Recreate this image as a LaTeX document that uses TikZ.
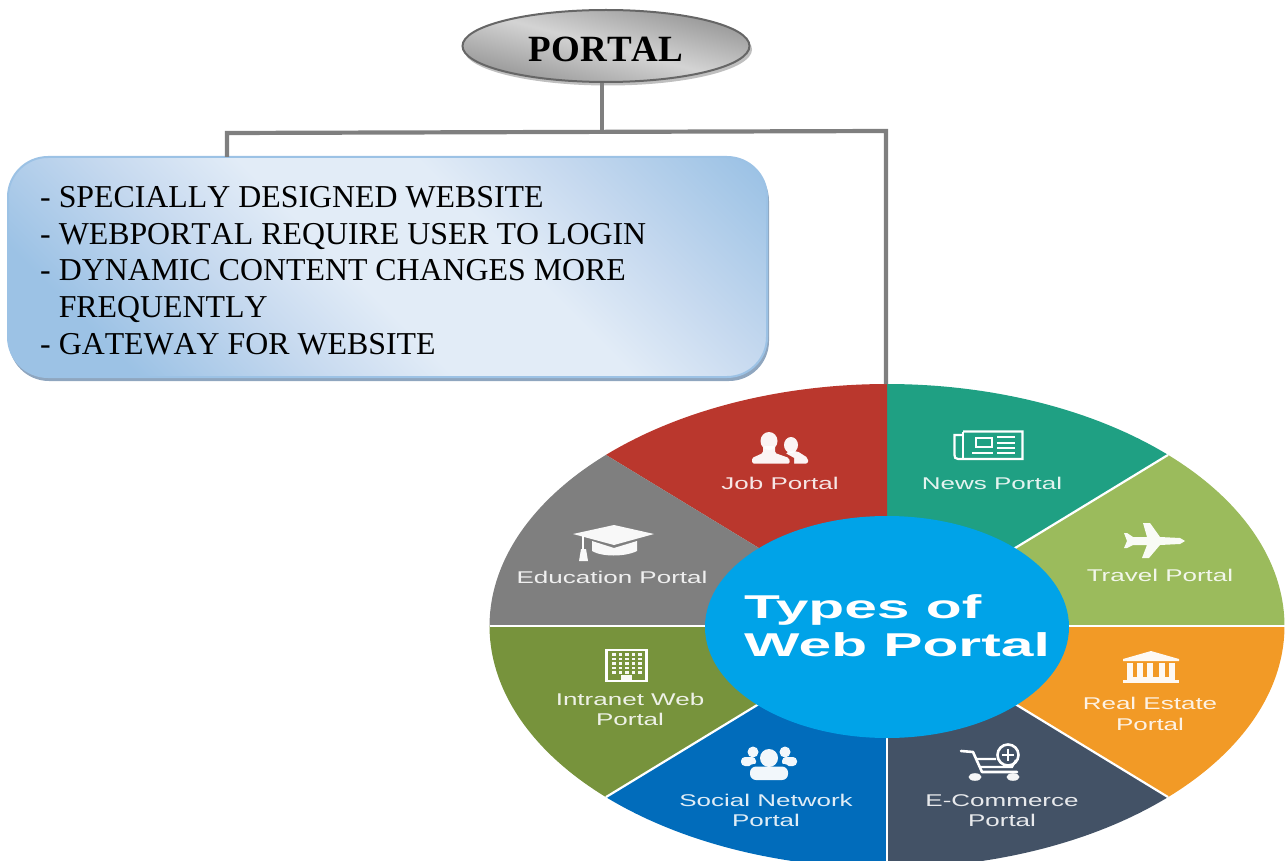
\documentclass[tikz,border=0pt]{standalone}
\usepackage{fontspec}
\usetikzlibrary{shapes.geometric}
\setmainfont[Kerning=Off]{Liberation Serif}
\newfontfamily\lblfont[FakeStretch=1.53]{Liberation Sans}
\newfontfamily\hubfont[FakeStretch=1.78]{Liberation Sans}
\definecolor{wirec}{HTML}{7F7F7F}
\definecolor{jobc}{HTML}{BA372D}
\definecolor{newsc}{HTML}{1FA083}
\definecolor{travelc}{HTML}{9BBB5C}
\definecolor{estatec}{HTML}{F29A26}
\definecolor{commercec}{HTML}{435266}
\definecolor{socialc}{HTML}{016CBB}
\definecolor{intranetc}{HTML}{77933C}
\definecolor{educ}{HTML}{7F7F7F}
\definecolor{hubc}{HTML}{00A3E8}
\definecolor{boxdark}{HTML}{9CC2E5}
\definecolor{boxmid}{HTML}{C6D9EF}
\definecolor{boxlight}{HTML}{E2ECF7}
\definecolor{boxshadow}{HTML}{8FA6BF}
\pgfdeclareverticalshading{boxshade}{100bp}{color(0bp)=(boxdark); color(24bp)=(boxdark); color(37bp)=(boxmid); color(47bp)=(boxlight); color(60bp)=(boxlight); color(70bp)=(boxmid); color(84bp)=(boxdark); color(100bp)=(boxdark)}
\newcommand{\sector}[3]{\fill[#1] (887,626) -- plot[domain=#2:#3,samples=40] ({887+397.5*cos(\x)},{626-242*sin(\x)}) -- cycle;}
\newcommand{\separator}[1]{\draw[sepline] (887,626) -- ({887+397.5*cos(#1)},{626-242*sin(#1)});}
\tikzset{
  wire/.style={draw=wirec,line width=4.2pt,line cap=butt,line join=miter},
  sepline/.style={draw=white,line width=2.2pt},
  lbl/.style={text=white,text opacity=.88,align=center,inner sep=0pt,font=\lblfont\fontsize{17}{20.5}\selectfont},
  icon/.style={fill=white,draw=none,fill opacity=.95},
  iconline/.style={draw=white,line width=2.2pt,fill=none},
}
\begin{document}
\begin{tikzpicture}[x=1pt,y=-1pt]
\useasboundingbox (0,0) rectangle (1285,861);
\clip (0,0) rectangle (1285,861);
% wheel
\sector{newsc}{45}{90}
\sector{jobc}{90}{135}
\sector{educ}{135}{180}
\sector{intranetc}{180}{225}
\sector{socialc}{225}{270}
\sector{commercec}{270}{315}
\sector{estatec}{315}{360}
\sector{travelc}{0}{45}
\separator{45}\separator{0}\separator{-45}\separator{180}\separator{225}\separator{270}
\node[ellipse,fill=hubc,minimum width=364pt,minimum height=222pt,inner sep=0pt] (hub) at (887,627) {};
\node[anchor=west,text=white,align=left,inner sep=0pt,font=\hubfont\bfseries\fontsize{33}{38}\selectfont] (hubtext) at (744,626) {Types of\\Web Portal};
% labels
\node[lbl] (job) at (780,483) {Job Portal};
\node[lbl] (news) at (992,483) {News Portal};
\node[lbl] (travel) at (1160,575) {Travel Portal};
\node[lbl] (edu) at (612,577) {Education Portal};
\node[lbl] (estate) at (1150,714) {Real Estate\\Portal};
\node[lbl] (commerce) at (1002,810.5) {E-Commerce\\Portal};
\node[lbl] (social) at (766,810.5) {Social Network\\Portal};
\node[lbl] (intranet) at (630,709.5) {Intranet Web\\Portal};
% job icon
\fill[icon] (791,445) ellipse (7 and 8);
\fill[icon,rounded corners=2pt] (786,463.5) -- (786,452) -- (797,451) -- (808,458) -- (808,463.5) -- cycle;
\fill[jobc] (769,441) ellipse (10.5 and 11.5);
\fill[jobc] (762,449) -- (778,449) -- (794,458) -- (794,464) -- (780,464) -- cycle;
\fill[icon] (769,441) ellipse (8.5 and 9);
\fill[icon,rounded corners=1.5pt] (752,463.5) -- (752,458) -- (763,453) -- (763,446) -- (775,446) -- (775,453) -- (789,458) -- (790,463.5) -- cycle;
% education icon
\fill[icon] (573,534) -- (614,525) -- (654,534) -- (614,545) -- cycle;
\fill[icon] (592,541) -- (614,548) -- (637,541) -- (637,551) .. controls (625,557) and (602,557) .. (592,551) -- cycle;
\draw[white,line width=1.6pt] (583,536) -- (583,550);
\fill[icon] (581,549) -- (586,549) -- (588,561) -- (579,561) -- cycle;
% news icon
\draw[iconline] (963,431.5) -- (1022.5,431.5) -- (1022.5,459) -- (958,459) .. controls (955,459) and (954.5,457) .. (954.5,455) -- (954.5,435) -- (963,435);
\draw[iconline] (963,431.5) -- (963,459);
\draw[iconline] (976,438) rectangle (992,447);
\draw[iconline] (997,437) -- (1015,437) (997,443) -- (1015,443) (997,448) -- (1015,448) (997,453) -- (1015,453) (972,453) -- (993,453);
% plane icon
\fill[icon] (1185,541) -- (1180,538) -- (1160,537) -- (1150,523) -- (1143,523) -- (1147,537) -- (1133,537) -- (1127,533) -- (1124,533) -- (1127,541) -- (1124,548) -- (1127,548) -- (1133,545) -- (1147,545) -- (1142,558) -- (1149,558) -- (1160,545) -- (1180,544) -- cycle;
% estate icon
\fill[icon] (1123,659) -- (1151,651) -- (1179,659) -- (1179,661) -- (1123,661) -- cycle;
\foreach \cx in {1130,1140,1150,1162,1172} {\fill[icon] (\cx-2.8,663) rectangle (\cx+2.8,677);}
\fill[icon] (1127,677) rectangle (1175,680);
\fill[icon] (1123,680) rectangle (1179,683);
% cart icon
\draw[iconline,line width=2.6pt,line cap=round,line join=round] (961,751) -- (973,752) -- (982,772) -- (1017,772);
\draw[iconline,line width=2.2pt] (977,759) -- (996,759) (980,767) -- (1012,767) -- (1016,760);
\fill[icon] (975,777) ellipse (6.5 and 3.8);
\fill[icon] (1013,777) ellipse (6.5 and 3.8);
\draw[iconline,line width=2.6pt] (1008,755) circle (10.5);
\draw[iconline,line width=2.6pt] (1002,755) -- (1014,755) (1008,749) -- (1008,761);
% social icon
\fill[icon] (753,752) circle (5.5);
\fill[icon] (785,752) circle (5.5);
\fill[icon,rounded corners=4pt] (741,757) rectangle (756,766);
\fill[icon,rounded corners=4pt] (782,757) rectangle (797,766);
\fill[socialc] (769,758) circle (10.5);
\fill[socialc,rounded corners=6pt] (748,764) rectangle (790,782);
\fill[icon] (769,758) circle (9);
\fill[icon,rounded corners=6pt] (750,766.5) rectangle (788,780);
% intranet icon
\draw[iconline,line width=2.8pt] (606.5,650) rectangle (646.5,681);
\foreach \gx in {614,620.5,627,633.5,640} {\foreach \gy in {654.5,659,663.5,668,672.5} {\fill[icon] (\gx-1.6,\gy-1.1) rectangle (\gx+1.6,\gy+1.1);}}
\fill[icon] (621,675) rectangle (632,681);
% box
\fill[fill=boxshadow,rounded corners=40pt] (9,161) rectangle (769,381);
\node[anchor=north west,rectangle,rounded corners=40pt,draw=boxdark,line width=2pt,outer sep=0pt,minimum width=759pt,minimum height=220pt,shading=boxshade,shading angle=-45] (box) at (8,157) {};
\node[anchor=north west,align=left,inner sep=0pt,font=\fontsize{31.85}{36.6}\selectfont] (boxtext) at (40,186.5) {- SPECIALLY DESIGNED WEBSITE\\- WEBPORTAL REQUIRE USER TO LOGIN\\- DYNAMIC CONTENT CHANGES MORE\\\phantom{- }FREQUENTLY\\- GATEWAY FOR WEBSITE};
% portal
\fill[black!25] (608,49.5) ellipse (144 and 36);
\node[ellipse,draw=black!60,line width=2pt,minimum width=287pt,minimum height=72pt,inner sep=0pt,shading=axis,top color=black!42,bottom color=black!42,middle color=black!17,shading angle=-15,font=\bfseries\fontsize{37}{40}\selectfont] (portal) at (606,46) {\raisebox{-16pt}[0pt][0pt]{PORTAL}};
% connectors
\coordinate (tee) at (602,132);
\coordinate (lcorner) at (227,133);
\coordinate (rcorner) at (886,131);
\coordinate (wheeltop) at (886,384);
\draw[wire] (portal.south -| tee) -- (tee);
\draw[wire] (box.north -| lcorner) -- (lcorner) -- (rcorner) -- (wheeltop);
\end{tikzpicture}
\end{document}
